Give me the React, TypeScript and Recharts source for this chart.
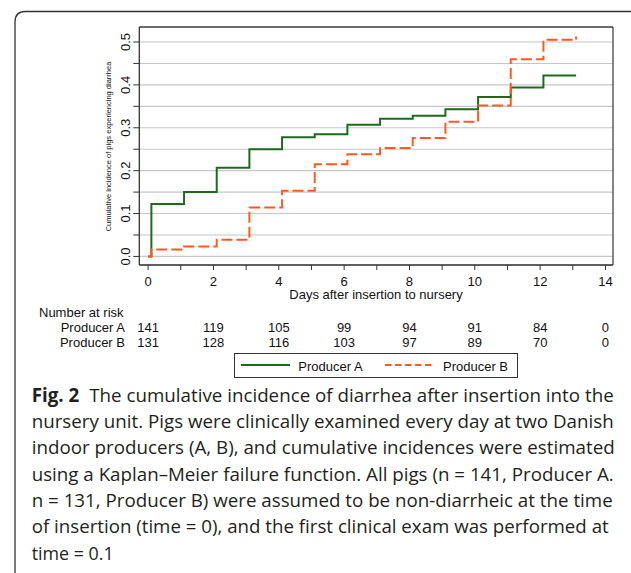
import React from 'react';
import { LineChart, Line, XAxis, YAxis, CartesianGrid, ReferenceLine } from 'recharts';

// Kaplan–Meier failure estimates; first exam at day 0.1, then daily
const examDays = [0, 0.1, 1.1, 2.1, 3.1, 4.1, 5.1, 6.1, 7.1, 8.1, 9.1, 10.1, 11.1, 12.1, 13.1];
const producerA = [0, 0.122, 0.15, 0.207, 0.25, 0.278, 0.285, 0.307, 0.321, 0.328, 0.343, 0.372, 0.394, 0.422, 0.422];
const producerB = [0, 0.016, 0.023, 0.039, 0.114, 0.153, 0.215, 0.238, 0.253, 0.276, 0.314, 0.352, 0.46, 0.505, 0.513];

// number-at-risk table under the x axis
const riskDays = [0, 2, 4, 6, 8, 10, 12, 14];
const atRiskA = [141, 119, 105, 99, 94, 91, 84, 0];
const atRiskB = [131, 128, 116, 103, 97, 89, 70, 0];

const xTicks = [0, 1, 2, 3, 4, 5, 6, 7, 8, 9, 10, 11, 12, 13, 14];
const yTicks = [0, 0.05, 0.1, 0.15, 0.2, 0.25, 0.3, 0.35, 0.4, 0.45, 0.5];

const captionLead = 'Fig. 2';
const captionLines = [
  'The cumulative incidence of diarrhea after insertion into the',
  'nursery unit. Pigs were clinically examined every day at two Danish',
  'indoor producers (A, B), and cumulative incidences were estimated',
  'using a Kaplan\u2013Meier failure function. All pigs (n = 141, Producer A.',
  'n = 131, Producer B) were assumed to be non-diarrheic at the time',
  'of insertion (time = 0), and the first clinical exam was performed at',
  'time = 0.1',
];
const captionWidths = [582, 582, 583, 582, 581, 577, 82];

const rows = examDays.map((t, i) => ({ t, a: producerA[i], b: producerB[i] }));

const FONT = '"Liberation Sans", Arial, sans-serif';
const GREEN = '#1d6a1d';
const ORANGE = '#ff5a24';
const INK = '#111';

function DayTick({ x, payload }: any) {
  const i = riskDays.indexOf(payload.value);
  if (i < 0) return null;
  return (
    <g fontFamily={FONT} fontSize={13} fill={INK} textAnchor="middle">
      <text x={x} y={285.5}>{payload.value}</text>
      <text x={x} y={331.7}>{atRiskA[i]}</text>
      <text x={x} y={346.7}>{atRiskB[i]}</text>
    </g>
  );
}

function IncidenceTick({ x, y, payload }: any) {
  const v = payload.value;
  if (Math.round(v * 100) % 10 !== 0) return null;
  const bx = x - 1.3;
  return (
    <text
      x={bx}
      y={y}
      transform={`rotate(-90 ${bx} ${y})`}
      textAnchor="middle"
      fontFamily={FONT}
      fontSize={13}
      fill={INK}
    >
      {v.toFixed(1)}
    </text>
  );
}

export default function App() {
  return (
    <div style={{ position: 'absolute', left: 0, top: 0, width: 631, height: 573, background: '#fff' }}>
      <div style={{ position: 'absolute', left: 0, top: 0 }}>
        <LineChart width={631} height={352} data={rows} margin={{ top: 27, right: 18, bottom: 0, left: 99.3 }}>
          <CartesianGrid vertical={false} stroke="#c6c6c6" strokeWidth={1.1} />
          <XAxis
            type="number"
            dataKey="t"
            domain={[-0.27, 14.23]}
            allowDataOverflow
            ticks={xTicks}
            interval={0}
            tick={<DayTick />}
            tickSize={5}
            height={87}
            axisLine={{ stroke: '#333', strokeWidth: 1.3 }}
            tickLine={{ stroke: '#333' }}
          />
          <YAxis
            type="number"
            domain={[-0.02, 0.535]}
            allowDataOverflow
            ticks={yTicks}
            interval={0}
            tick={<IncidenceTick />}
            tickSize={6}
            width={40}
            axisLine={{ stroke: '#333', strokeWidth: 1.3 }}
            tickLine={{ stroke: '#333' }}
          />
          <ReferenceLine y={0.535} stroke="#444" strokeWidth={1.3} />
          <ReferenceLine x={14.23} stroke="#444" strokeWidth={1.3} />
          <Line type="stepAfter" dataKey="a" stroke={GREEN} strokeWidth={2} dot={false} isAnimationActive={false} />
          <Line
            type="stepAfter"
            dataKey="b"
            stroke={ORANGE}
            strokeWidth={2}
            strokeDasharray="11 4"
            dot={false}
            isAnimationActive={false}
          />
        </LineChart>
      </div>

      <svg width={631} height={573} style={{ position: 'absolute', left: 0, top: 0, pointerEvents: 'none' }}>
        {/* card frame */}
        <path d="M15 573 L15 22 Q15 11.5 25.5 11.5 L631 11.5" fill="none" stroke="#333" strokeWidth={1.3} />

        <text
          x={111}
          y={146.5}
          transform="rotate(-90 111 146.5)"
          textAnchor="middle"
          fontFamily={FONT}
          fontSize={7.5}
          fill={INK}
        >
          Cumulative incidence of pigs experiencing diarrhea
        </text>
        <text x={376} y={299} textAnchor="middle" fontFamily={FONT} fontSize={13} fill={INK}>
          Days after insertion to nursery
        </text>

        <g fontFamily={FONT} fontSize={13} fill={INK}>
          <text x={39} y={316.7}>Number at risk</text>
          <text x={125} y={331.7} textAnchor="end">Producer A</text>
          <text x={125} y={346.7} textAnchor="end">Producer B</text>
        </g>

        <g fontFamily={FONT} fontSize={13} fill={INK}>
          <rect x={234.5} y={353.5} width={283} height={24} fill="#fff" stroke="#333" strokeWidth={1} />
          <line x1={241} y1={365} x2={290} y2={365} stroke={GREEN} strokeWidth={2} />
          <text x={298.3} y={370.7}>Producer A</text>
          <line x1={385} y1={365} x2={434} y2={365} stroke={ORANGE} strokeWidth={2} strokeDasharray="6.5 3.5" />
          <text x={443} y={370.7}>Producer B</text>
        </g>

        <g fontFamily='"Open Sans", "Noto Sans", sans-serif' fontSize={19} fill="#231f20">
          {captionLines.map((line, i) => (
            <text
              key={i}
              x={31.7}
              y={401.7 + i * 26.3}
              textLength={captionWidths[i]}
              lengthAdjust="spacingAndGlyphs"
            >
              {i === 0 && <tspan fontWeight="bold">{captionLead}</tspan>}
              <tspan dx={i === 0 ? 10 : 0}>{line}</tspan>
            </text>
          ))}
        </g>
      </svg>
    </div>
  );
}
